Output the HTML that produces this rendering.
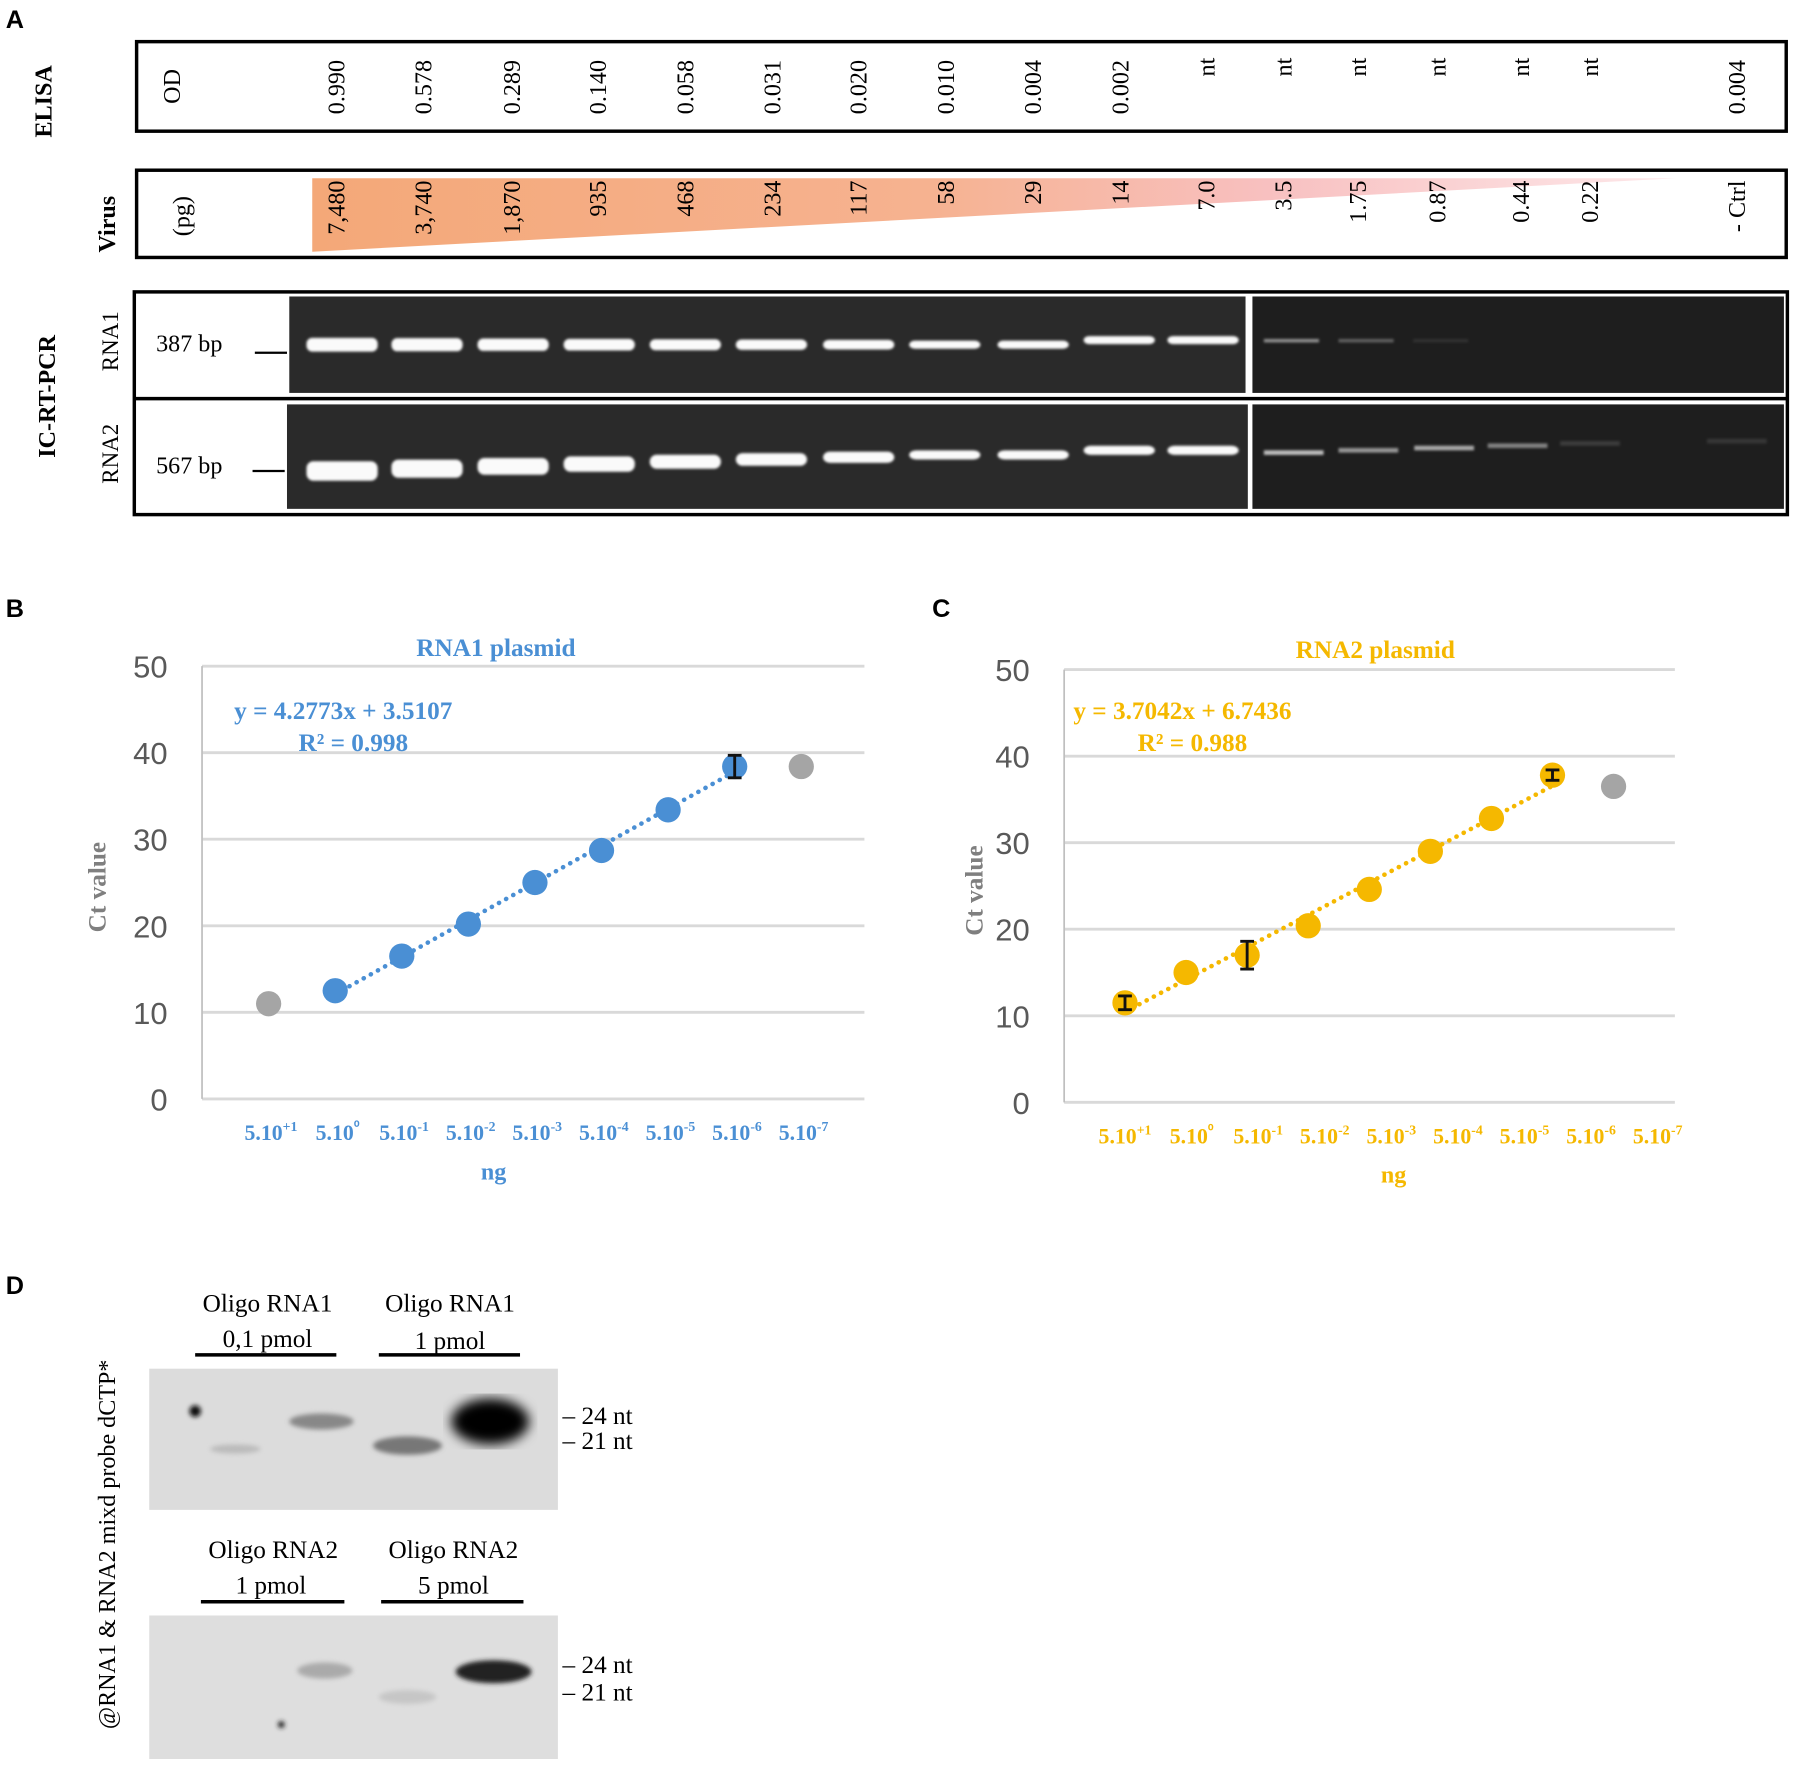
<!DOCTYPE html>
<html><head><meta charset="utf-8"><style>
html,body{margin:0;padding:0;background:#fff;width:1800px;height:1788px;overflow:hidden}
svg{display:block}
.s{font-family:"Liberation Serif",serif}
.a{font-family:"Liberation Sans",sans-serif}
</style></head><body>
<svg id="fig" width="1800" height="1788" viewBox="0 0 1568 1557">
<defs>
<linearGradient id="vg" x1="0" x2="1" y1="0" y2="0"><stop offset="0" stop-color="#f4a878"/><stop offset="0.45" stop-color="#f6b290"/><stop offset="0.7" stop-color="#f8c0c0"/><stop offset="1" stop-color="#fde8ea"/></linearGradient>
<filter id="bl"><feGaussianBlur stdDeviation="2"/></filter>
<filter id="bl1"><feGaussianBlur stdDeviation="1.2"/></filter>
<filter id="bl2"><feGaussianBlur stdDeviation="5"/></filter>
</defs>
<g>
<text x="5" y="24" class="a" font-size="22" font-weight="bold">A</text>
<text transform="translate(45,88) rotate(-90)" text-anchor="middle" class="s" font-size="21" font-weight="bold">ELISA</text>
<rect x="119" y="36" width="1437" height="78" fill="none" stroke="#000" stroke-width="3"/>
<text transform="translate(157,75) rotate(-90)" text-anchor="middle" class="s" font-size="21">OD</text>
<g id="odrow"></g>
<text transform="translate(100,195) rotate(-90)" text-anchor="middle" class="s" font-size="21" font-weight="bold">Virus</text>
<rect x="119" y="148" width="1437" height="76" fill="none" stroke="#000" stroke-width="3"/>
<text transform="translate(165,188) rotate(-90)" text-anchor="middle" class="s" font-size="21">(pg)</text>
<polygon points="272,155 1460,155 272,219" fill="url(#vg)"/>
<g id="virusrow"></g>
<text transform="translate(48,345) rotate(-90)" text-anchor="middle" class="s" font-size="21" font-weight="bold">IC-RT-PCR</text>
<rect x="117" y="254" width="1440" height="194" fill="none" stroke="#000" stroke-width="3"/>
<line x1="117" y1="347" x2="1557" y2="347" stroke="#000" stroke-width="3"/>
<text transform="translate(103,297) rotate(-90)" text-anchor="middle" class="s" font-size="20">RNA1</text>
<text transform="translate(103,395) rotate(-90)" text-anchor="middle" class="s" font-size="20">RNA2</text>
<text x="136" y="306" class="s" font-size="21">387 bp</text>
<line x1="222" y1="307" x2="250" y2="307" stroke="#000" stroke-width="2"/>
<text x="136" y="412" class="s" font-size="21">567 bp</text>
<line x1="220" y1="410" x2="248" y2="410" stroke="#000" stroke-width="2"/>
<rect x="252" y="258" width="833" height="84" fill="#2a2a2a"/>
<rect x="1091" y="258" width="463" height="84" fill="#1e1e1e"/>
<rect x="250" y="352" width="837" height="91" fill="#2a2a2a"/>
<rect x="1091" y="352" width="463" height="91" fill="#1e1e1e"/>
<g id="bands" filter="url(#bl1)"></g>
</g>

<g id="chartB"></g>
<g id="chartC"></g>

<g>
<text x="5" y="1127" class="a" font-size="22" font-weight="bold">D</text>
<text transform="translate(100,1345) rotate(-90)" text-anchor="middle" class="s" font-size="21">@RNA1 &amp; RNA2 mixd probe dCTP*</text>
<g class="s" font-size="22" text-anchor="middle">
<text x="233" y="1142">Oligo RNA1</text><text x="233" y="1173">0,1 pmol</text>
<text x="392" y="1142">Oligo RNA1</text><text x="392" y="1175">1 pmol</text>
<text x="238" y="1357">Oligo RNA2</text><text x="236" y="1388">1 pmol</text>
<text x="395" y="1357">Oligo RNA2</text><text x="395" y="1388">5 pmol</text>
</g>
<g stroke="#000" stroke-width="3">
<line x1="170" y1="1180" x2="293" y2="1180"/><line x1="330" y1="1180" x2="453" y2="1180"/>
<line x1="175" y1="1395" x2="300" y2="1395"/><line x1="332" y1="1395" x2="456" y2="1395"/>
</g>
<rect x="130" y="1192" width="356" height="123" fill="#dcdcdc"/>
<rect x="130" y="1407" width="356" height="125" fill="#dedede"/>
<g filter="url(#bl)">
<circle cx="170" cy="1229" r="5" fill="#111"/>
<ellipse cx="280" cy="1238" rx="28" ry="7" fill="#888"/>
<ellipse cx="205" cy="1262" rx="22" ry="4" fill="#bbb"/>
<ellipse cx="355" cy="1259" rx="30" ry="8" fill="#777"/>
<ellipse cx="283" cy="1455" rx="24" ry="7" fill="#aaa"/>
<ellipse cx="355" cy="1478" rx="25" ry="6" fill="#c6c6c6"/>
<circle cx="245" cy="1502" r="3" fill="#222"/>
<ellipse cx="430" cy="1456" rx="33" ry="10" fill="#222"/>
</g>
<ellipse cx="427" cy="1238" rx="34" ry="20" fill="#000" filter="url(#bl2)"/>
<g class="s" font-size="22">
<text x="490" y="1240">– 24 nt</text><text x="490" y="1262">– 21 nt</text>
<text x="490" y="1457">– 24 nt</text><text x="490" y="1481">– 21 nt</text>
</g>
</g>
</svg>
<script>
var NS='http://www.w3.org/2000/svg';
function mk(p,t,a,txt){var e=document.createElementNS(NS,t);for(var k in a)e.setAttribute(k,a[k]);if(txt!=null)e.textContent=txt;p.appendChild(e);return e;}
var colX=[293,369,446,521,597,673,748,824,900,976,1051,1118,1183,1252,1325,1385,1513];
var odValues=['0.990','0.578','0.289','0.140','0.058','0.031','0.020','0.010','0.004','0.002','nt','nt','nt','nt','nt','nt','0.004'];
var virusValues=['7,480','3,740','1,870','935','468','234','117','58','29','14','7.0','3.5','1.75','0.87','0.44','0.22','- Ctrl'];
var od=document.getElementById('odrow');
odValues.forEach(function(v,i){var t=mk(od,'text',{transform:'translate('+(colX[i]+7)+','+(v=='nt'?50:52)+') rotate(-90)','text-anchor':'end','class':'s','font-size':'21'},v);

});
var vr=document.getElementById('virusrow');
virusValues.forEach(function(v,i){var t=mk(vr,'text',{transform:'translate('+(colX[i]+7)+',157) rotate(-90)','text-anchor':'end','class':'s','font-size':'21'},v);

});
var bandX=[298,372,447,522,597,672,748,823,900,975,1048];
var b=document.getElementById('bands');
bandX.forEach(function(x,i){
 var h1=i<7?12-i*0.6:7;mk(b,'rect',{x:x-31,y:(i<9?300:296)-h1/2,width:62,height:h1,rx:5,fill:'#fafafa'});
 var h2=i<7?17-i*1.2:8;mk(b,'rect',{x:x-31,y:(i<7?410-i*2:(i<9?396:392))-h2/2,width:62,height:h2,rx:6,fill:'#fafafa'});
});
var faint1=[[1125,0.6],[1190,0.35],[1255,0.1]];
faint1.forEach(function(f){mk(b,'rect',{x:f[0]-24,y:295,width:48,height:3,fill:'rgba(220,220,220,'+f[1]+')'});});
var faint2=[[1127,0.8],[1192,0.6],[1258,0.7],[1322,0.5],[1385,0.15],[1513,0.12]];
faint2.forEach(function(f,i){mk(b,'rect',{x:f[0]-26,y:392-i*2,width:52,height:4,fill:'rgba(230,230,230,'+f[1]+')'});});

var yTicks=[0,10,20,30,40,50];
var catsB=['5.10+1','5.10⁰','5.10-1','5.10-2','5.10-3','5.10-4','5.10-5','5.10-6','5.10-7'];
var valsB=[11,12.5,16.5,20.2,25,28.7,33.4,38.4,38.4];
var grayB=[true,false,false,false,false,false,false,false,true];
var errB=[0,0,0,0,0,0,0,1.3,0];
var catsC=['5.10+1','5.10⁰','5.10-1','5.10-2','5.10-3','5.10-4','5.10-5','5.10-6','5.10-7'];
var valsC=[11.5,15,17,20.4,24.6,29,32.8,37.8,36.5];
var grayC=[false,false,false,false,false,false,false,false,true];
var errC=[0.8,0,1.6,0,0,0,0,0.6,0];
function sup(s){return s.replace('5.10','');}
function chart(gid,cfg){
 var g=document.getElementById(gid);
 function Y(v){return cfg.y0-(v/50)*(cfg.y0-cfg.y50);}
 function X(i){return cfg.px0+i*cfg.pdx;}
 function LX(i){return cfg.lx0+i*cfg.ldx;}
 mk(g,'text',{x:cfg.lab[0],y:cfg.lab[1],'class':'a','font-size':'22','font-weight':'bold'},cfg.letter);
 yTicks.forEach(function(t){
  var l=mk(g,'line',{x1:cfg.x0,x2:cfg.x1,y1:Y(t),y2:Y(t),stroke:'#d9d9d9','stroke-width':'2.5'});
  
  
  var tl=mk(g,'text',{x:cfg.x0-30,y:Y(t)+10,'text-anchor':'end','class':'a','font-size':'27',fill:'#595959'},String(t));
  
  
 });
 mk(g,'line',{x1:cfg.x0,x2:cfg.x0,y1:Y(50),y2:Y(0),stroke:'#bfbfbf','stroke-width':'1.5'});
 var yt=mk(g,'text',{transform:'translate('+cfg.ylab+','+(Y(25)+4)+') rotate(-90)','text-anchor':'middle','class':'s','font-size':'22','font-weight':'bold',fill:'#7f7f7f'},'Ct value');
 
 
 var tt=mk(g,'text',{x:cfg.tx,y:cfg.ty,'text-anchor':'middle','class':'s','font-size':'22','font-weight':'bold',fill:cfg.col},cfg.title);
 
 
 var e1=mk(g,'text',{x:cfg.eq[0],y:cfg.eq[1],'class':'s','font-size':'22','font-weight':'bold',fill:cfg.col},cfg.eqs);
 
 
 var e2=mk(g,'text',{x:cfg.r2[0],y:cfg.r2[1],'class':'s','font-size':'22','font-weight':'bold',fill:cfg.col},cfg.r2s);
 
 
 var idx=[];cfg.gray.forEach(function(gr,i){if(!gr)idx.push(i);});
 var n=idx.length,sx=0,sy=0,sxx=0,sxy=0;idx.forEach(function(i){sx+=i;sy+=cfg.vals[i];sxx+=i*i;sxy+=i*cfg.vals[i];});
 var m=(n*sxy-sx*sy)/(n*sxx-sx*sx),c=(sy-m*sx)/n;var a=idx[0],z=idx[n-1];
 var tl2=mk(g,'line',{x1:X(a),y1:Y(m*a+c),x2:X(z),y2:Y(m*z+c),stroke:cfg.col,'stroke-width':'4','stroke-dasharray':'0.1 7','stroke-linecap':'round'});
 
 
 cfg.vals.forEach(function(v,i){
  var p=mk(g,'circle',{cx:X(i),cy:Y(v),r:11,fill:cfg.gray[i]?'#a5a5a5':cfg.col});
  
  
  if(cfg.err[i]>0){var e=cfg.err[i];
   mk(g,'path',{d:'M'+(X(i)-6)+' '+Y(v+e)+'h12M'+X(i)+' '+Y(v+e)+'V'+Y(v-e)+'M'+(X(i)-6)+' '+Y(v-e)+'h12',stroke:'#111','stroke-width':'2.5',fill:'none'});}
 });
 cfg.cats.forEach(function(cat,i){
  var t=mk(g,'text',{x:LX(i),y:cfg.ly,'text-anchor':'middle','class':'s','font-size':'19','font-weight':'bold',fill:cfg.col});
  
  
  mk(t,'tspan',{},'5.10');
  mk(t,'tspan',{dy:'-8','font-size':'12'},sup(cat));
 });
 var xl=mk(g,'text',{x:cfg.ngx,y:cfg.ly+34,'text-anchor':'middle','class':'s','font-size':'21','font-weight':'bold',fill:cfg.col},'ng');
 
 
}
chart('chartB',{letter:'B',lab:[5,537],x0:176,x1:753,y0:957,y50:580,px0:234,pdx:58,lx0:236,ldx:58,ly:993,
 cats:catsB,vals:valsB,gray:grayB,err:errB,col:'#4a8fd4',title:'RNA1 plasmid',tx:432,ty:571,
 eqs:'y = 4.2773x + 3.5107',eq:[204,626],r2s:'R² = 0.998',r2:[260,654],ylab:92,ngx:430});
chart('chartC',{letter:'C',lab:[812,537],x0:927,x1:1459,y0:960,y50:583,px0:980,pdx:53.2,lx0:980,ldx:58,ly:996,
 cats:catsC,vals:valsC,gray:grayC,err:errC,col:'#f5b800',title:'RNA2 plasmid',tx:1198,ty:573,
 eqs:'y = 3.7042x + 6.7436',eq:[935,626],r2s:'R² = 0.988',r2:[991,654],ylab:856,ngx:1214});
</script>
</body></html>
